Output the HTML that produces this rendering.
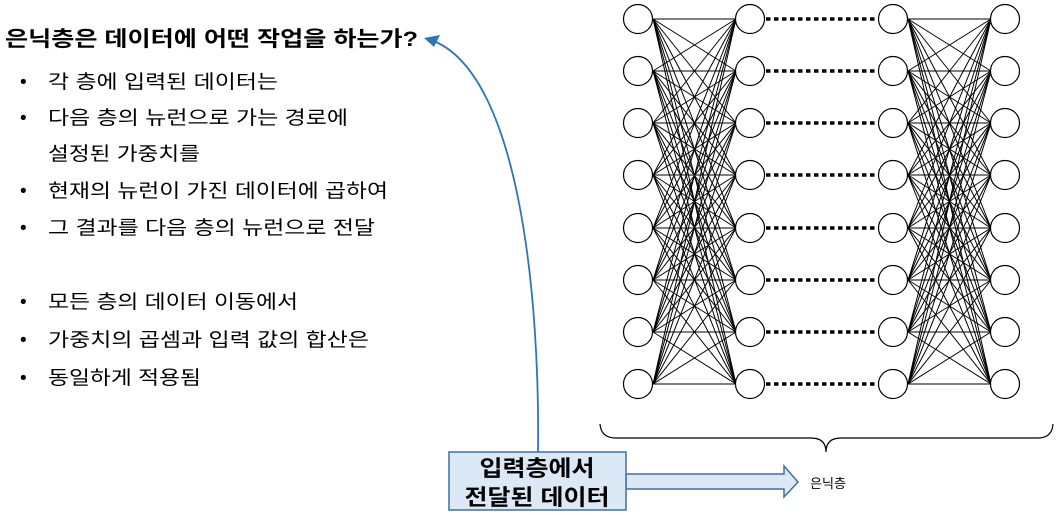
<!DOCTYPE html>
<html><head><meta charset="utf-8"><style>
body{margin:0;width:1058px;height:518px;background:#fff;overflow:hidden;font-family:"Liberation Sans","Noto Sans CJK KR",sans-serif;}
svg{position:absolute;left:0;top:0}
</style></head><body>
<svg width="1058" height="518" viewBox="0 0 1058 518" xmlns="http://www.w3.org/2000/svg">
<g font-family="Liberation Sans, Noto Sans CJK KR, sans-serif">
<text x="5" y="46" font-size="21" font-weight="bold" fill="#000" textLength="413" lengthAdjust="spacingAndGlyphs">은닉층은 데이터에 어떤 작업을 하는가?</text>
<g font-size="19" fill="#000">
<text x="20" y="88">•</text><text x="48" y="88" textLength="230" lengthAdjust="spacingAndGlyphs">각 층에 입력된 데이터는</text>
<text x="20" y="124">•</text><text x="48" y="124" textLength="300" lengthAdjust="spacingAndGlyphs">다음 층의 뉴런으로 가는 경로에</text>
<text x="48" y="160" textLength="152" lengthAdjust="spacingAndGlyphs">설정된 가중치를</text>
<text x="20" y="197">•</text><text x="48" y="197" textLength="340" lengthAdjust="spacingAndGlyphs">현재의 뉴런이 가진 데이터에 곱하여</text>
<text x="20" y="234">•</text><text x="48" y="234" textLength="327" lengthAdjust="spacingAndGlyphs">그 결과를 다음 층의 뉴런으로 전달</text>
<text x="20" y="308">•</text><text x="48" y="308" textLength="250" lengthAdjust="spacingAndGlyphs">모든 층의 데이터 이동에서</text>
<text x="20" y="346">•</text><text x="48" y="346" textLength="321" lengthAdjust="spacingAndGlyphs">가중치의 곱셈과 입력 값의 합산은</text>
<text x="20" y="384">•</text><text x="48" y="384" textLength="153" lengthAdjust="spacingAndGlyphs">동일하게 적용됨</text>
</g>
</g>
<g id="L1" stroke="#000" stroke-width="1" fill="none">
<path d="M653 19L736 19M653 19L736 71M653 19L736 123M653 19L736 175M653 19L736 228M653 19L736 280M653 19L736 332M653 19L736 384"/>
<path d="M653 71L736 19M653 71L736 71M653 71L736 123M653 71L736 175M653 71L736 228M653 71L736 280M653 71L736 332M653 71L736 384"/>
<path d="M653 123L736 19M653 123L736 71M653 123L736 123M653 123L736 175M653 123L736 228M653 123L736 280M653 123L736 332M653 123L736 384"/>
<path d="M653 175L736 19M653 175L736 71M653 175L736 123M653 175L736 175M653 175L736 228M653 175L736 280M653 175L736 332M653 175L736 384"/>
<path d="M653 228L736 19M653 228L736 71M653 228L736 123M653 228L736 175M653 228L736 228M653 228L736 280M653 228L736 332M653 228L736 384"/>
<path d="M653 280L736 19M653 280L736 71M653 280L736 123M653 280L736 175M653 280L736 228M653 280L736 280M653 280L736 332M653 280L736 384"/>
<path d="M653 332L736 19M653 332L736 71M653 332L736 123M653 332L736 175M653 332L736 228M653 332L736 280M653 332L736 332M653 332L736 384"/>
<path d="M653 384L736 19M653 384L736 71M653 384L736 123M653 384L736 175M653 384L736 228M653 384L736 280M653 384L736 332M653 384L736 384"/>
</g>
<use href="#L1" transform="translate(255,0)"/>
<g stroke="#000" stroke-width="3.5" stroke-dasharray="4.5 3.5">
<path d="M766 19H878M766 71H878M766 123H878M766 175H878M766 228H878M766 280H878M766 332H878M766 384H878"/>
</g>
<g id="C" fill="#fff" stroke="#000" stroke-width="1.2">
<circle cx="638" cy="19" r="14.5"/><circle cx="638" cy="71" r="14.5"/><circle cx="638" cy="123" r="14.5"/><circle cx="638" cy="175" r="14.5"/><circle cx="638" cy="228" r="14.5"/><circle cx="638" cy="280" r="14.5"/><circle cx="638" cy="332" r="14.5"/><circle cx="638" cy="384" r="14.5"/>
</g>
<use href="#C" transform="translate(112,0)"/>
<use href="#C" transform="translate(255,0)"/>
<use href="#C" transform="translate(367,0)"/>
<path d="M600 424Q601 438 616 438L811 438Q826 438 826 452Q826 438 841 438L1038 438Q1052 438 1053 424" fill="none" stroke="#000" stroke-width="1.2"/>
<path d="M538 452C540 300 520 80 436 42" fill="none" stroke="#2e75b6" stroke-width="1.8"/>
<path d="M424 38L440 35L434 47Z" fill="#2e75b6"/>
<path d="M626 474H784V466L798 482L784 497V489H626Z" fill="#dbe8f5" stroke="#41719c" stroke-width="1.5"/>
<rect x="449" y="452" width="177" height="58" fill="#dbe8f5" stroke="#41719c" stroke-width="1.5"/>
<g font-family="Liberation Sans, Noto Sans CJK KR, sans-serif" font-weight="bold" font-size="22" fill="#000" text-anchor="middle">
<text x="537" y="476" textLength="115" lengthAdjust="spacingAndGlyphs">입력층에서</text>
<text x="537" y="505" textLength="145" lengthAdjust="spacingAndGlyphs">전달된 데이터</text>
</g>
<text x="810" y="488" font-family="Liberation Sans, Noto Sans CJK KR, sans-serif" font-size="13" fill="#000" textLength="36" lengthAdjust="spacingAndGlyphs">은닉층</text>
</svg>
</body></html>
